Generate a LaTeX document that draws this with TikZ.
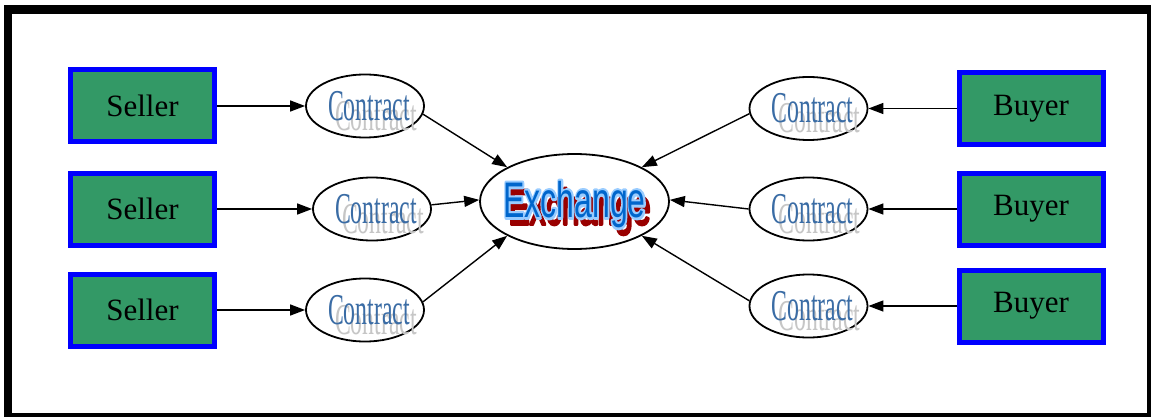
\documentclass[tikz,border=0pt]{standalone}
\usepackage{fontspec}
\usepackage{graphicx}
\setmainfont{Liberation Serif}
\newfontfamily\exfont{Liberation Sans}
\usetikzlibrary{arrows.meta,shapes.geometric}
\definecolor{boxgreen}{RGB}{51,153,102}
\definecolor{cblue}{RGB}{58,108,165}
\definecolor{exblue}{RGB}{0,102,204}
\definecolor{exlight}{RGB}{153,204,255}
\definecolor{exred}{RGB}{153,0,0}
\newcommand\layer[3]{\makebox[0pt][l]{\hspace*{#1}\raisebox{#2}[0pt][0pt]{#3}}}
\newcommand\strk[1]{\special{pdf:literal direct 2 Tr #1 w 1 j}}
\newcommand\nostrk{\special{pdf:literal direct 0 Tr}}
\newcommand\cword{\fontsize{44}{48}\selectfont\scalebox{0.54}[1]{Contract}}
\newcommand\ctext{\layer{7pt}{-10pt}{\color{gray!45}\cword}{\color{cblue}\cword}}
\newcommand\eword{\exfont\fontsize{50}{54}\selectfont\scalebox{0.64}[1]{Exchange}}
\newcommand\etext{%
\layer{5pt}{-7pt}{\color{exred}\strk{3}\eword\nostrk}%
\layer{0pt}{0pt}{\color{exlight}\strk{5}\eword\nostrk}%
{\color{exblue}\eword}}
\begin{document}
\begin{tikzpicture}[x=1pt,y=-1pt,
  box/.style={rectangle, draw=blue, line width=5pt, fill=boxgreen,
    minimum width=144pt, minimum height=72pt, inner sep=0pt,
    font=\fontsize{31}{36}\selectfont},
  cell/.style={ellipse, draw, line width=1.8pt, minimum width=118pt,
    minimum height=63pt, inner sep=0pt},
  exc/.style={ellipse, draw, line width=1.8pt, minimum width=189pt,
    minimum height=95pt, inner sep=0pt},
  arr/.style={-{Triangle[length=15pt,width=11pt]}, line width=1.4pt}]
\useasboundingbox (0,0) rectangle (1151,417);
\fill[black] (4,5) rectangle (1151,417);
\fill[white] (12,14) rectangle (1147,413);
\node[box] (s1) at (142.5,106) {Seller};
\node[box] (s2) at (142.5,209) {Seller};
\node[box] (s3) at (142.5,310) {Seller};
\node[box] (b1) at (1031,108.5) {Buyer};
\node[box] (b2) at (1031,209) {Buyer};
\node[box] (b3) at (1031,306) {Buyer};
\node[cell] (c1) at (365,106) {};
\node[cell] (c2) at (372,209) {};
\node[cell] (c3) at (365,310) {};
\node[cell] (d1) at (808.5,108.5) {};
\node[cell] (d2) at (808.5,209) {};
\node[cell] (d3) at (808.5,306) {};
\node[exc] (ex) at (574.5,201.5) {};
\foreach \n in {c1,c2,c3,d1,d2,d3}
  \node[inner sep=0pt, xshift=4pt] (t\n) at (\n) {\ctext};
\node[inner sep=0pt, yshift=-3pt] (tex) at (ex) {\etext};
\draw[arr] (s1.east) -- (c1.west);
\draw[arr] (s2.east) -- (c2.west);
\draw[arr] (s3.east) -- (c3.west);
\draw[arr] (b1.west) -- (d1.east);
\draw[arr] (b2.west) -- (d2.east);
\draw[arr] (b3.west) -- (d3.east);
\draw[arr] (c1.-8) -- (ex.153);
\draw[arr] (c2.4) -- (ex.179);
\draw[arr] (c3.8) -- (ex.207);
\draw[arr] (d1.185) -- (ex.27);
\draw[arr] (d2.180) -- (ex.1);
\draw[arr] (d3.175) -- (ex.333);
\end{tikzpicture}
\end{document}
